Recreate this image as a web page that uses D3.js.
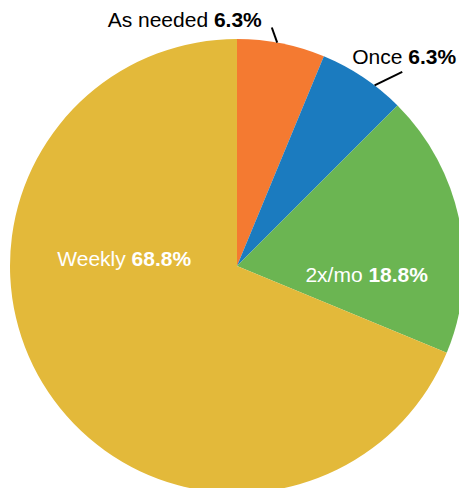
<!DOCTYPE html>
<meta charset="utf-8">
<script src="https://d3js.org/d3.v7.min.js"></script>
<style>
  body { margin: 0; background: #fff; }
  text { font-family: "Liberation Sans", Arial, Helvetica, sans-serif; font-size: 21px; }
</style>
<div id="chart"></div>
<script>
// data
var categories = ["As needed", "Once", "2x/mo", "Weekly"];
var counts = [1, 1, 3, 11];
var colors = ["#f47a31", "#1b7bbf", "#6bb552", "#e3b93a"];

var width = 459, height = 488;
var cx = 237, cy = 266, radius = 227;

// label placement: angle in degrees (clockwise from top), distance from center
var layout = {
  "As needed": { outside: true, lineA: [10.2, 227], lineB: [8.3, 241], anchor: "end", dx: -10, dy: -1 },
  "Once":      { outside: true, lineA: [37.3, 227], lineB: [40.4, 255], anchor: "start", dx: -50, dy: -8 },
  "2x/mo":     { outside: false, pos: [94, 130], color: "#fff" },
  "Weekly":    { outside: false, pos: [273.5, 113], color: "#fff" }
};

var total = d3.sum(counts);
var fmt = d3.format(".1f");

var svg = d3.select("#chart").append("svg")
    .attr("width", width)
    .attr("height", height)
  .append("g")
    .attr("transform", "translate(" + cx + "," + cy + ")");

var pie = d3.pie().sort(null).value(function(d) { return d; });
var arcs = pie(counts);

var arc = d3.arc().innerRadius(0).outerRadius(radius);

svg.append("g").selectAll("path")
  .data(arcs)
  .enter().append("path")
    .attr("d", arc)
    .attr("fill", function(d, i) { return colors[i]; });

function polar(deg, r) {
  var a = deg * Math.PI / 180;
  return [r * Math.sin(a), -r * Math.cos(a)];
}

arcs.forEach(function(d, i) {
  var name = categories[i];
  var L = layout[name];
  var pct = fmt(d.value / total * 100) + "%";
  var x, y, anchor, fill;
  if (L.outside) {
    var p0 = polar(L.lineA[0], L.lineA[1]);
    var p1 = polar(L.lineB[0], L.lineB[1]);
    svg.append("line")
      .attr("x1", p0[0]).attr("y1", p0[1])
      .attr("x2", p1[0]).attr("y2", p1[1])
      .attr("stroke", "#000")
      .attr("stroke-width", 2);
    x = p1[0] + L.dx; y = p1[1] + L.dy;
    anchor = L.anchor; fill = "#000";
  } else {
    var p = polar(L.pos[0], L.pos[1]);
    x = p[0]; y = p[1] + 7;
    anchor = "middle"; fill = L.color;
  }
  var t = svg.append("text")
    .attr("x", x).attr("y", y)
    .attr("text-anchor", anchor)
    .attr("fill", fill);
  t.append("tspan").text(name + " ");
  t.append("tspan").attr("font-weight", "bold").text(pct);
});
</script>
